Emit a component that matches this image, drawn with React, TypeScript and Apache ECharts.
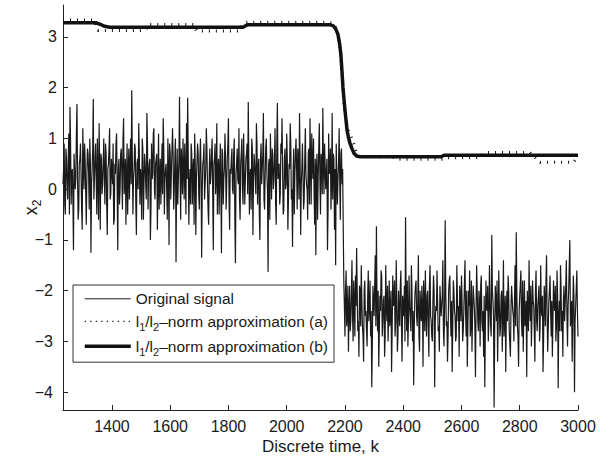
import React, { useEffect, useRef } from "react";
import * as echarts from "echarts";

// ---- data ----
const xTicks = [1400, 1600, 1800, 2000, 2200, 2400, 2600, 2800, 3000];
const yTicks = [-4, -3, -2, -1, 0, 1, 2, 3];

const seg1Start = 1232;
const seg2Start = 2196;
const sampleStep = 4;

// original signal, first regime, even samples (k = 1232, 1236, ... 2192)
const noiseSeg1 = [
  0.1, 0.9, -0.5, 0.6, -0.2, 1.1, 1.62, -0.3, 0.4, -1.2, 0.7, 0.2, 1.68, -0.6, 0.5, 0.9, -0.4, 1.2, 0.0, 0.6,
  -0.7, 0.8, 0.3, 1.0, -1.25, 0.4, 1.78, -0.2, 0.9, -0.5, 0.3, 1.3, -0.8, 0.6, 0.1, 1.0, -0.3, 0.7, -0.9, 0.5,
  1.2, -0.1, 0.4, 0.9, -0.6, 0.3, 1.1, -1.2, 0.6, 0.0, 0.8, -0.4, 1.4, 0.2, -0.7, 0.9, 0.3, -0.2, 1.0, 1.95,
  -0.5, 0.4, 0.8, -0.9, 0.6, 1.3, -0.3, 0.2, 1.0, -0.6, 0.7, 0.1, 1.5, -0.4, 0.5, -1.0, 0.9, 0.3, 1.2, -0.2,
  0.6, -0.8, 1.1, 0.2, -0.3, 0.9, 1.4, -0.5, 0.4, 0.0, 1.0, -1.1, 0.7, 0.3, 1.2, -0.4, 0.6, -1.44, 0.8, 0.2,
  1.82, -0.6, 0.5, 1.0, -0.2, 0.3, 1.3, 1.8, -0.7, 0.4, 0.9, -0.3, 0.6, 1.1, -0.9, 0.2, 0.7, -0.4, 1.0, -1.35,
  0.5, 0.9, -0.2, 1.2, 0.1, -0.7, 0.8, 0.3, 1.0, -1.2, 0.6, -0.1, 1.3, 0.4, -0.5, 0.9, -1.26, 0.7, 0.2, 1.1,
  -0.4, 0.6, 1.4, -0.8, 0.3, 0.8, -0.1, 1.0, -1.46, 0.5, 0.2, 1.2, -0.6, 0.7, 0.0, 1.1, -0.3, 0.6, 0.9, 1.72,
  -0.5, 0.4, 1.0, -0.9, 0.7, 0.2, 1.3, -0.3, 0.6, -1.0, 0.9, 0.1, 1.5, -0.4, 0.8, 0.3, -1.63, 0.6, 1.1, -0.2,
  0.7, 0.2, 1.2, -0.7, 1.7, 0.4, -0.3, 0.9, 1.4, -0.5, 0.6, 0.0, 1.1, -0.8, 0.5, 1.3, -0.2, -1.14, 0.8, 0.3,
  1.0, -0.4, 0.6, 1.5, -0.9, 0.4, 0.9, -0.2, 1.2, 0.1, -0.6, 0.8, 1.4, -0.3, 0.5, 1.0, -0.7, -1.3, 0.7, 0.2,
  1.3, -0.5, 0.6, 1.6, -0.1, 0.9, 0.3, -1.2, 1.1, 0.4, -0.4, 1.5, 0.7, -0.8, -1.5, 0.9, 0.2, 1.2, -0.6, 0.8,
  0.4,
];

// original signal, first regime, in-between samples (k = 1234, 1238, ... 2190)
const noiseSeg1b = [
  0.4, -0.3, 0.8, 0.1, 0.6, -0.5, 0.9, 0.3, -0.2, 0.7, 0.0, 1.1, 0.2, -0.4, 0.6, 0.3, -0.8, 0.5, 0.9, -0.1,
  0.3, 0.7, -0.4, 0.5, 0.1, 0.8, -0.2, 0.6, 0.2, 1.0, -0.6, 0.4, 0.7, -0.1, 0.5, 0.2, 0.9, -0.3, 0.4, 0.8,
  -0.2, 0.6, 0.1, -0.7, 0.5, 0.9, 0.0, 0.4, -0.3, 0.7, 0.3, 1.0, -0.1, 0.6, 0.2, -0.5, 0.8, 0.4, 0.1, 0.6,
  0.2, 0.9, -0.3, 0.5, 0.0, 0.7, 0.4, -0.6, 0.8, 0.1, 0.5, -0.2, 0.9, 0.3, 0.6, -0.4, 0.2, 1.1, 0.0, 0.5,
  0.7, 0.1, -0.4, 0.6, 0.3, -0.1, 0.8, 0.2, 0.5, -0.6, 0.4, 0.9, -0.2, 0.3, 0.7, 0.0, 1.0, 0.1, -0.3, 0.6,
  0.3, 0.8, -0.1, 0.4, 0.9, -0.5, 0.2, 0.6, 0.1, -0.3, 0.7, 0.4, -0.7, 0.5, 0.2, 0.9, -0.1, 0.6, 0.3, 0.0,
  0.6, -0.2, 0.4, 0.8, -0.4, 0.3, 0.1, 0.7, -0.1, 0.5, 0.9, 0.2, -0.5, 0.6, 0.3, 0.0, 0.8, -0.3, 0.4, 0.6,
  0.1, 0.9, -0.2, 0.4, 0.6, 0.0, 0.7, -0.6, 0.3, 0.8, 0.1, -0.2, 0.5, 1.0, -0.3, 0.4, 0.2, 0.7, -0.1, 0.5,
  0.3, -0.4, 0.8, 0.2, 0.5, -0.1, 0.9, 0.4, -0.5, 0.6, 0.1, 0.7, -0.2, 0.3, 1.0, 0.0, 0.5, -0.6, 0.4, 0.8,
  0.0, 0.6, -0.3, 0.9, 0.2, 0.5, -0.1, 0.7, 0.3, -0.4, 0.8, 0.1, 0.6, -0.2, 0.4, 0.9, 0.0, 0.3, -0.5, 0.7,
  0.4, 0.8, -0.2, 0.5, 0.1, 0.9, -0.4, 0.6, 0.3, 0.0, 0.7, -0.3, 0.5, 1.1, 0.2, -0.1, 0.6, 0.4, -0.6, 0.8,
  0.2, 0.7, -0.1, 0.5, 0.9, 0.0, 0.6, -0.4, 0.3, 0.8, 0.1, -0.2, 0.6, 0.4, 0.9, -0.3, 0.5, 0.2, 0.7, 0.1,
];

// original signal, second regime, even samples (k = 2196, 2200, ... 3000)
const noiseSeg2 = [
  -1.8, -2.9, -1.6, -2.5, -3.2, -1.9, -2.6, -1.4, -3.0, -2.2, -1.7, -1.16, -2.8, -3.3, -2.0, -1.5, -2.7, -3.4, -1.8, -2.4,
  -3.1, -1.6, -2.3, -2.9, -3.9, -1.9, -2.5, -1.3, -0.73, -2.8, -3.5, -2.1, -1.6, -2.9, -2.2, -3.3, -1.5, -2.6, -3.0, -1.8,
  -2.4, -3.6, -1.7, -2.2, -2.9, -1.4, -3.2, -2.0, -2.7, -1.6, -3.4, -2.3, -1.9, -0.55, -2.8, -3.1, -1.7, -2.5, -1.5, -3.0,
  -3.86, -2.1, -1.8, -2.7, -1.3, -3.2, -2.4, -1.9, -3.5, -2.2, -1.6, -2.9, -2.0, -3.3, -1.5, -2.6, -3.0, -1.7, -3.9, -2.3,
  -1.6, -2.8, -3.2, -1.9, -2.5, -1.4, -3.1, -0.61, -2.7, -3.4, -2.0, -1.7, -2.9, -3.6, -1.8, -2.4, -3.0, -1.5, -2.6, -3.3,
  -2.1, -1.7, -3.0, -2.4, -1.4, -2.9, -3.5, -2.0, -1.6, -2.7, -3.2, -1.9, -2.3, -3.7, -1.5, -2.6, -2.0, -3.1, -1.7, -2.8,
  -3.3, -3.9, -1.8, -2.4, -3.0, -1.5, -2.7, -0.9, -2.2, -4.3, -1.9, -2.6, -3.4, -1.6, -2.9, -2.1, -3.2, -1.4, -2.5, -3.6,
  -2.0, -1.7, -2.8, -3.3, -1.9, -2.4, -3.0, -1.5, -0.85, -2.7, -3.5, -2.1, -1.6, -2.9, -3.2, -1.8, -2.5, -3.7, -2.0, -1.4,
  -2.6, -3.1, -1.8, -2.3, -3.4, -1.6, -2.8, -2.1, -3.0, -1.5, -2.5, -3.6, -1.9, -2.7, -1.3, -3.2, -2.2, -1.7, -2.9, -3.3,
  -1.8, -2.4, -3.0, -1.6, -3.92, -2.2, -1.5, -2.8, -3.3, -1.9, -2.6, -1.4, -3.1, -2.0, -1.0, -2.7, -3.4, -1.7, -4.0, -2.3,
  -1.6, -2.9,
];

// original signal, second regime, in-between samples (k = 2198, 2202, ... 2998)
const noiseSeg2b = [
  -2.3, -2.0, -2.7, -1.9, -2.4, -2.8, -2.1, -2.5, -1.8, -2.9, -2.3, -2.0, -2.6, -1.9, -2.7, -2.2, -2.9, -2.0, -2.5, -2.8,
  -2.1, -2.6, -1.8, -2.4, -3.0, -2.2, -1.9, -2.7, -2.3, -2.0, -2.8, -2.4, -1.7, -2.6, -2.1, -2.9, -2.3, -1.9, -2.5, -2.7,
  -2.0, -2.8, -2.3, -1.8, -2.6, -2.2, -2.9, -2.4, -1.9, -2.7, -2.1, -2.5, -3.0, -2.2, -1.8, -2.6, -2.3, -2.8, -2.0, -2.4,
  -2.7, -1.9, -2.5, -2.2, -2.9, -2.0, -2.6, -2.3, -1.8, -2.8, -2.4, -2.1, -2.7, -1.9, -2.5, -2.9, -2.2, -2.0, -2.6, -2.4,
  -2.2, -2.7, -1.9, -2.5, -2.1, -2.8, -2.3, -2.0, -2.6, -2.9, -1.8, -2.4, -2.2, -2.7, -2.0, -2.5, -2.9, -2.1, -2.3, -1.9,
  -2.6, -2.2, -2.8, -1.9, -2.4, -2.0, -2.7, -2.3, -2.9, -1.8, -2.5, -2.1, -2.7, -2.4, -2.0, -2.8, -2.2, -1.9, -2.6, -2.4,
  -2.1, -2.7, -2.3, -1.9, -2.6, -2.2, -2.9, -2.0, -2.5, -2.8, -2.2, -1.8, -2.6, -2.3, -2.7, -2.0, -2.5, -2.9, -2.1, -2.4,
  -2.6, -2.0, -2.8, -2.3, -1.9, -2.5, -2.2, -2.7, -2.0, -2.9, -2.4, -2.1, -2.6, -1.8, -2.4, -2.7, -2.2, -2.0, -2.8, -2.3,
  -1.9, -2.5, -2.2, -2.8, -2.0, -2.6, -2.3, -1.9, -2.7, -2.4, -2.1, -2.9, -2.2, -1.8, -2.5, -2.7, -2.0, -2.4, -2.2, -2.6,
  -2.3, -1.9, -2.7, -2.1, -2.5, -2.8, -2.0, -2.4, -2.2, -2.6, -1.9, -2.5, -2.3, -2.0, -2.7, -2.2, -2.5, -2.1, -2.6, -2.3,
  -2.4,
];

// l1/l2-norm approximation (b): breakpoints
const approxBK = [1232, 1345, 1360, 1375, 1392, 1850, 1865, 2150, 2160, 2168, 2176, 2182, 2186, 2190, 2193, 2197, 2200, 2207, 2212, 2217, 2224, 2231, 2241, 2255, 2530, 2540, 3000];
const approxBV = [3.28, 3.28, 3.25, 3.21, 3.19, 3.19, 3.24, 3.24, 3.22, 3.16, 3.05, 2.85, 2.65, 2.3, 2.01, 1.75, 1.56, 1.17, 1.02, 0.91, 0.8, 0.71, 0.65, 0.64, 0.64, 0.67, 0.67];

// l1/l2-norm approximation (a): breakpoints
const approxAK = [1232, 1338, 1352, 1515, 1525, 1682, 1690, 1835, 1855, 2140, 2160, 2172, 2182, 2190, 2196, 2203, 2212, 2222, 2230, 2238, 2250, 2365, 2372, 2535, 2545, 2660, 2680, 2835, 2870, 2985, 3000];
const approxAV = [3.335, 3.335, 3.13, 3.13, 3.245, 3.245, 3.12, 3.12, 3.29, 3.29, 3.27, 3.15, 2.85, 2.3, 1.7, 1.35, 1.15, 1.02, 0.9, 0.75, 0.64, 0.64, 0.59, 0.59, 0.62, 0.62, 0.725, 0.725, 0.53, 0.53, 0.67];

const NAME_ORIG = "Original signal";
const NAME_A = "l1/l2–norm approximation (a)";
const NAME_B = "l1/l2–norm approximation (b)";

const FONT = "'Liberation Sans', Arial, Helvetica, sans-serif";
const INK = "#1a1a1a";

export default function App() {
  const ref = useRef<HTMLDivElement>(null);

  useEffect(() => {
    if (!ref.current) return;
    const chart = echarts.init(ref.current, undefined, { renderer: "svg" });

    const noiseData = [
      ...noiseSeg1.map((v, i) => [seg1Start + sampleStep * i, v]),
      ...noiseSeg1b.map((v, i) => [seg1Start + 2 + sampleStep * i, v]),
      ...noiseSeg2.map((v, i) => [seg2Start + sampleStep * i, v]),
      ...noiseSeg2b.map((v, i) => [seg2Start + 2 + sampleStep * i, v]),
    ].sort((p, q) => p[0] - q[0]);
    const bData = approxBK.map((k, i) => [k, approxBV[i]]);
    const aData = approxAK.map((k, i) => [k, approxAV[i]]);

    const legendLabel: Record<string, string> = {
      [NAME_ORIG]: "{m|Original signal}",
      [NAME_A]: "{m|l}{s|1}{m|/l}{s|2}{m|–norm approximation (a)}",
      [NAME_B]: "{m|l}{s|1}{m|/l}{s|2}{m|–norm approximation (b)}",
    };

    const hiddenSymbol = { opacity: 0, color: "transparent", borderWidth: 0 };

    chart.setOption({
      animation: false,
      backgroundColor: "#fff",
      textStyle: { fontFamily: FONT },
      grid: { left: 63, right: 30, top: 5, bottom: 49, outerBoundsMode: "none" },
      xAxis: {
        type: "value",
        min: 1232,
        max: 3000,
        name: "Discrete time, k",
        nameLocation: "middle",
        nameGap: 28,
        nameMoveOverlap: false,
        nameTextStyle: { fontSize: 17, color: INK, fontFamily: FONT },
        axisLine: { show: true, onZero: false, lineStyle: { color: "#222", width: 1 } },
        axisTick: { show: true, inside: true, length: 5, customValues: xTicks, lineStyle: { color: "#222" } },
        axisLabel: {
          customValues: xTicks,
          margin: 8,
          fontSize: 16,
          color: INK,
          fontFamily: FONT,
          formatter: (v: number) => String(v),
        },
        splitLine: { show: false },
      },
      yAxis: {
        type: "value",
        min: -4.35,
        max: 3.63,
        name: "{m|x}{s|2}",
        nameLocation: "middle",
        nameRotate: 90,
        nameGap: 20,
        nameMoveOverlap: false,
        nameTextStyle: {
          color: INK,
          fontFamily: FONT,
          rich: {
            m: { fontSize: 18, lineHeight: 24, color: INK, fontFamily: FONT },
            s: { fontSize: 12, lineHeight: 10, verticalAlign: "bottom", color: INK, fontFamily: FONT },
          },
        },
        axisLine: { show: true, onZero: false, lineStyle: { color: "#222", width: 1 } },
        axisTick: { show: true, inside: true, length: 5, customValues: yTicks, lineStyle: { color: "#222" } },
        axisLabel: {
          customValues: yTicks,
          margin: 6,
          fontSize: 16,
          color: INK,
          fontFamily: FONT,
          formatter: (v: number) => (v < 0 ? "{n|−" + Math.abs(v) + "}" : String(v)),
          rich: { n: { fontSize: 16, color: INK, fontFamily: FONT, padding: [0, 4, 0, 0] } },
        },
        splitLine: { show: false },
      },
      legend: {
        orient: "vertical",
        left: 73,
        top: 285,
        padding: [5, 6, 5, 10],
        itemGap: 5,
        itemWidth: 46,
        itemHeight: 22,
        borderColor: "#333",
        borderWidth: 1,
        backgroundColor: "#fff",
        itemStyle: hiddenSymbol,
        data: [
          { name: NAME_ORIG, itemStyle: hiddenSymbol, lineStyle: { width: 1, color: INK } },
          { name: NAME_A, itemStyle: hiddenSymbol, lineStyle: { width: 1.3, color: INK, type: [1.3, 4.2] } },
          { name: NAME_B, itemStyle: hiddenSymbol, lineStyle: { width: 3.5, color: "#111" } },
        ],
        formatter: (name: string) => legendLabel[name] || name,
        textStyle: {
          color: INK,
          fontFamily: FONT,
          rich: {
            m: { fontSize: 15.5, lineHeight: 22, color: INK, fontFamily: FONT },
            s: { fontSize: 11, lineHeight: 10, verticalAlign: "bottom", color: INK, fontFamily: FONT },
          },
        },
      },
      series: [
        {
          type: "line",
          name: NAME_ORIG,
          data: noiseData,
          symbol: "none",
          showSymbol: false,
          lineStyle: { width: 1.2, color: INK },
          itemStyle: { color: INK },
          z: 2,
        },
        {
          type: "line",
          name: NAME_B,
          data: bData,
          symbol: "none",
          showSymbol: false,
          lineStyle: { width: 3.5, color: "#111" },
          itemStyle: { color: "#111" },
          z: 3,
        },
        {
          type: "line",
          name: NAME_A,
          data: aData,
          symbol: "none",
          showSymbol: false,
          lineStyle: { width: 3, color: "#111", type: [1, 6] },
          itemStyle: { color: "#111" },
          z: 4,
        },
      ],
    });

    return () => chart.dispose();
  }, []);

  return (
    <div
      ref={ref}
      style={{ position: "absolute", left: 0, top: 0, width: 608, height: 459 }}
    />
  );
}
